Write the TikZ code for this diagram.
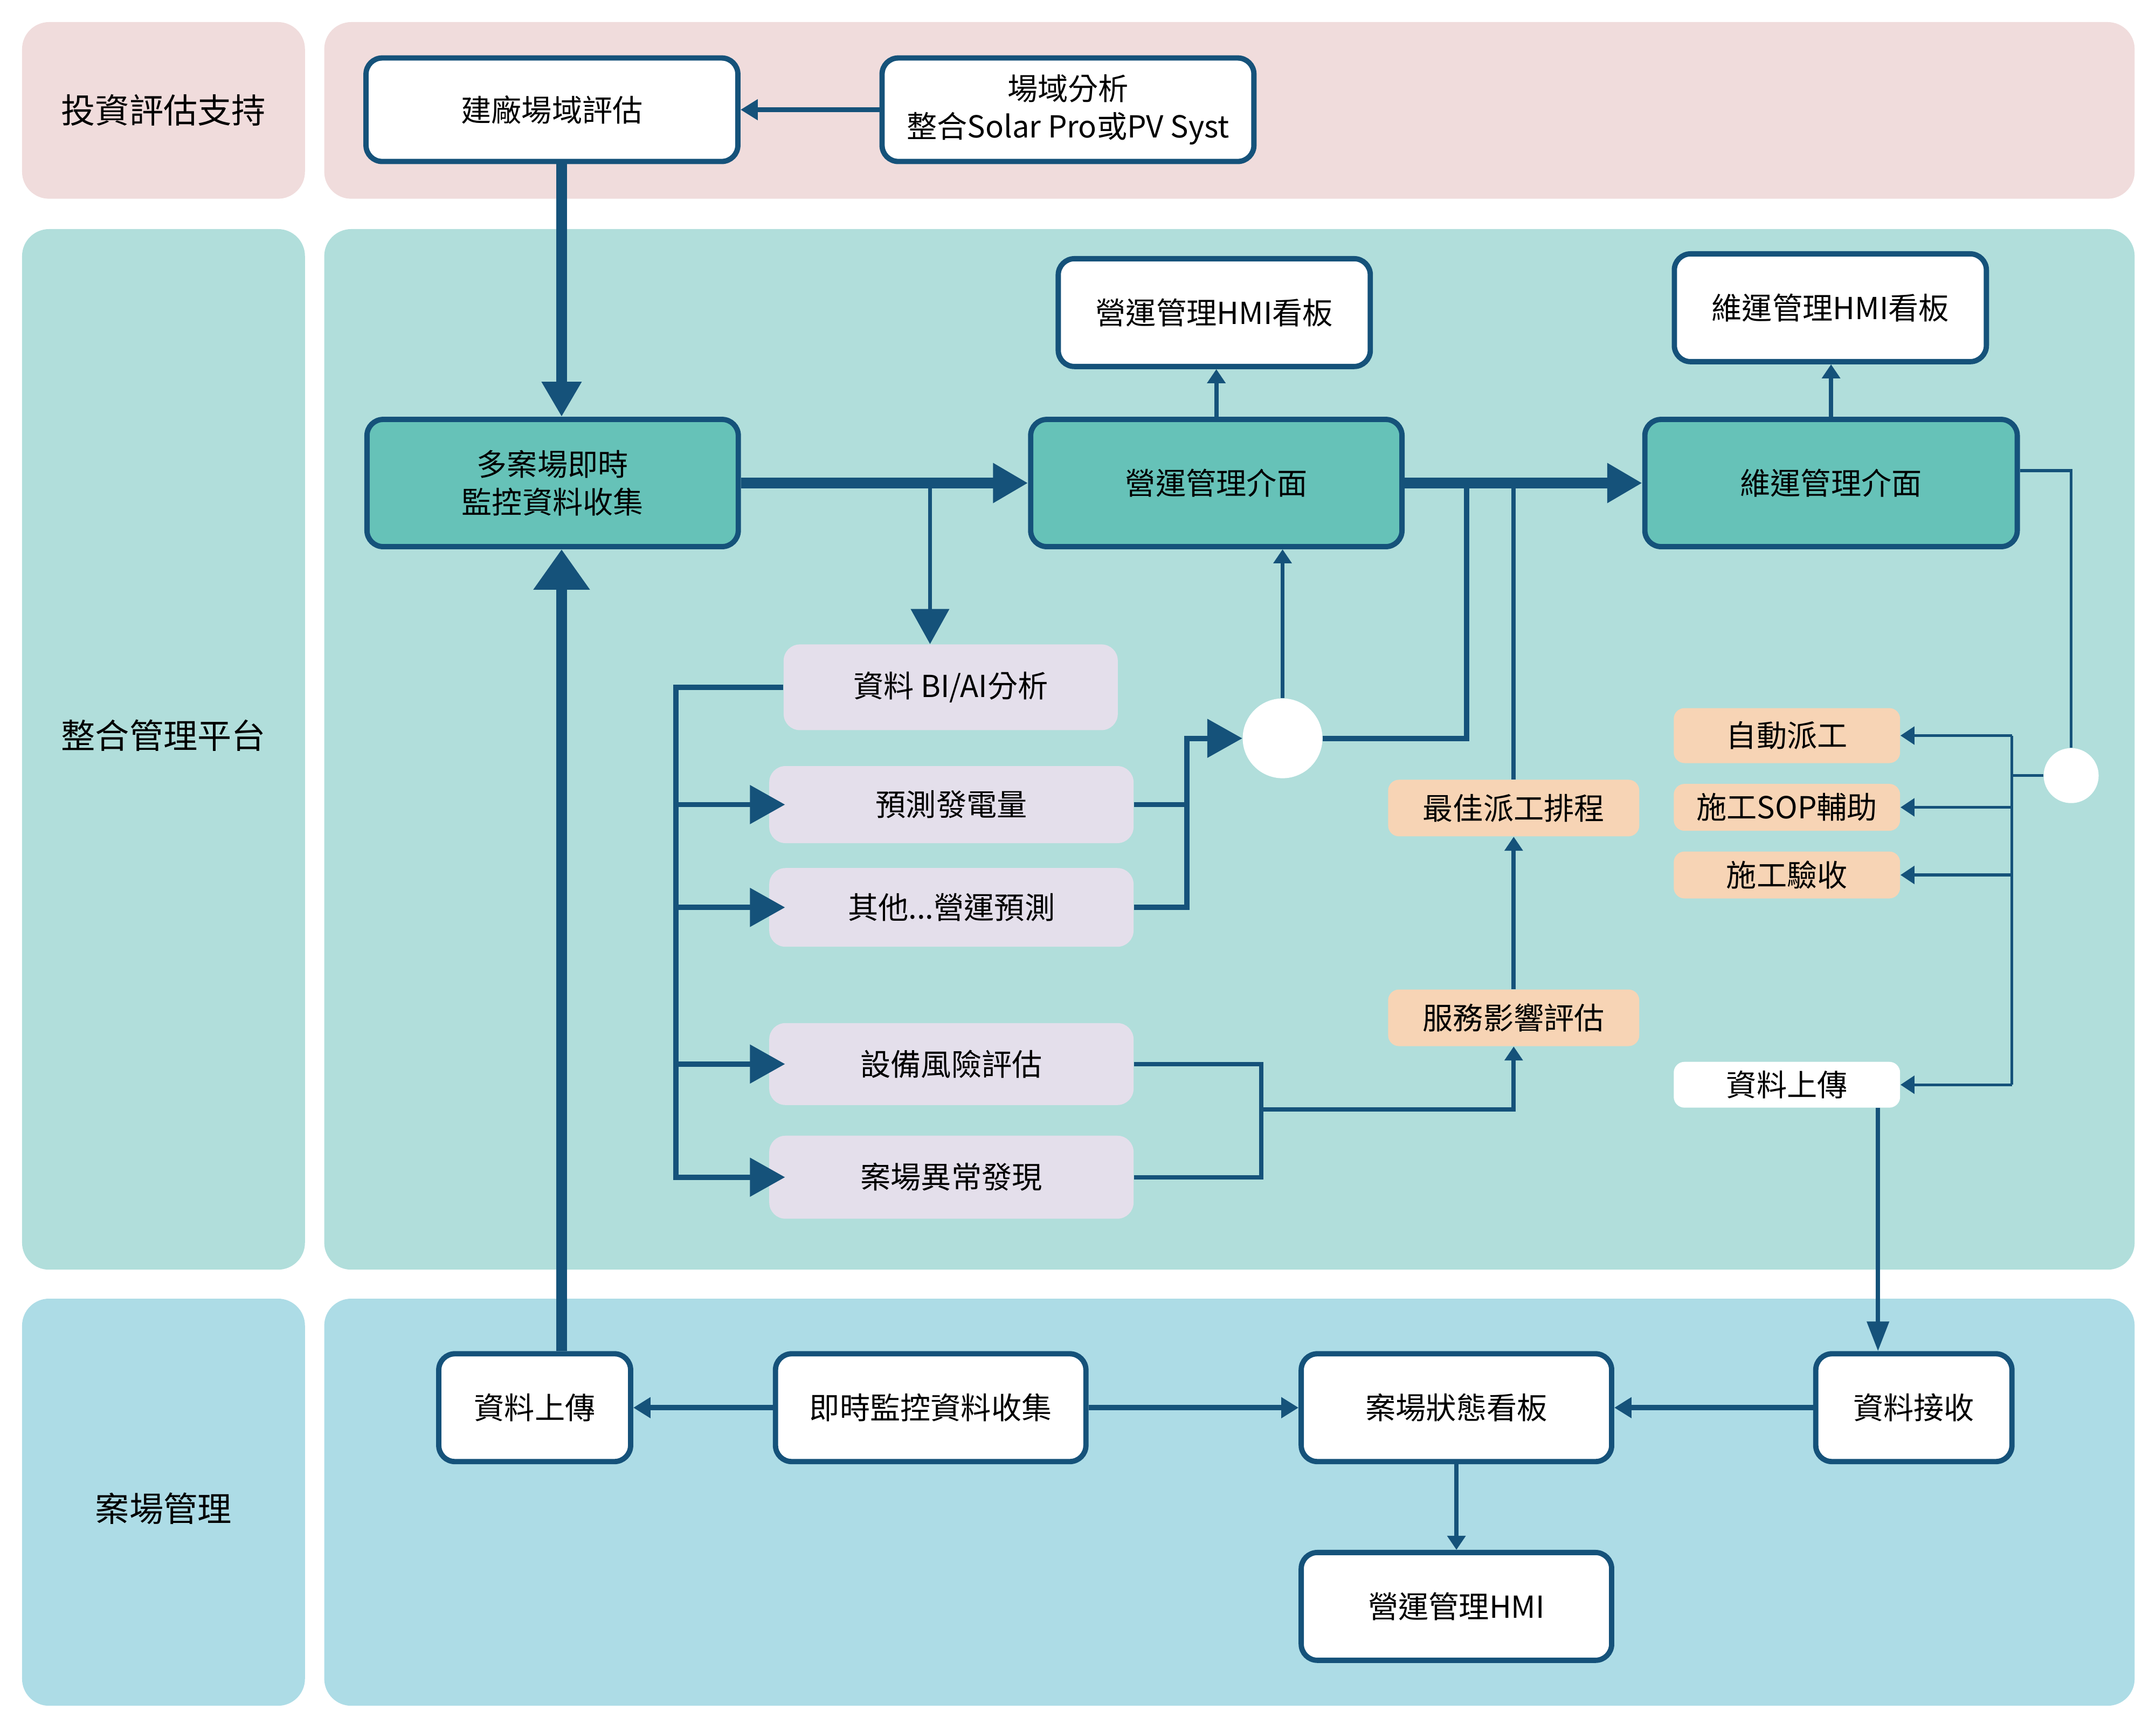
\documentclass[tikz,border=0pt]{standalone}
\usepackage{fontspec}
\setmainfont{Noto Sans CJK TC}
\usetikzlibrary{arrows.meta}
\definecolor{navy}{RGB}{21,82,122}
\definecolor{pinkbg}{RGB}{240,220,220}
\definecolor{tealbg}{RGB}{177,222,219}
\definecolor{bluebg}{RGB}{173,220,230}
\definecolor{tealbox}{RGB}{102,194,184}
\definecolor{lilac}{RGB}{228,223,235}
\definecolor{peach}{RGB}{247,212,181}
\tikzset{
  lane/.style={font=\fontsize{18}{22}\selectfont},
  box/.style={draw=navy,line width=2.8pt,rounded corners=0.3cm,fill=white,align=center,inner sep=0pt,font=\fontsize{16}{20}\selectfont},
  hub/.style={box,fill=tealbox},
  task/.style={fill=lilac,rounded corners=0.3cm,align=center,inner sep=0pt,font=\fontsize{16}{20}\selectfont},
  job/.style={fill=peach,rounded corners=0.2cm,align=center,inner sep=0pt,font=\fontsize{16}{20}\selectfont},
  knot/.style={circle,fill=white,inner sep=0pt},
  heavy/.style={draw=navy,line width=5.8pt},
  mid/.style={draw=navy,line width=2.8pt},
  fine/.style={draw=navy,line width=2.2pt},
  hair/.style={draw=navy,line width=1.5pt},
  bigtip/.style={-{Triangle[length=0.65cm,width=0.7cm]}},
  hugetip/.style={-{Triangle[length=0.75cm,width=1cm]}},
  brtip/.style={-{Triangle[length=0.65cm,width=0.7cm]},shorten >=-0.3cm},
  medtip/.style={-{Triangle[length=0.32cm,width=0.37cm]}},
  smalltip/.style={-{Triangle[length=0.26cm,width=0.33cm]}},
  droptip/.style={-{Triangle[length=0.55cm,width=0.4cm]}}
}
\begin{document}
\begin{tikzpicture}[x=0.0256cm,y=-0.0256cm]
  \useasboundingbox (0,0) rectangle (1562.5,1254);
  \fill[pinkbg,rounded corners=0.5cm] (16,16) rectangle (221,144);
  \fill[pinkbg,rounded corners=0.5cm] (235,16) rectangle (1547,144);
  \fill[tealbg,rounded corners=0.5cm] (16,166) rectangle (221,920);
  \fill[tealbg,rounded corners=0.5cm] (235,166) rectangle (1547,920);
  \fill[bluebg,rounded corners=0.5cm] (16,941) rectangle (221,1236);
  \fill[bluebg,rounded corners=0.5cm] (235,941) rectangle (1547,1236);

  \node[lane] (invest) at (118.5,80) {投資評估支持};
  \node[lane] (platform) at (118.5,533) {整合管理平台};
  \node[lane] (sitemgmt) at (118.5,1093) {案場管理};

  \node[box,minimum width=6.9cm,minimum height=1.92cm] (build) at (400,79.5) {建廠場域評估};
  \node[box,minimum width=6.9cm,minimum height=1.92cm] (site) at (774,79.5) {場域分析\\整合Solar Pro或PV Syst};

  \node[hub,minimum width=6.89cm,minimum height=2.36cm] (multi) at (400.5,350) {多案場即時\\監控資料收集};
  \node[hub,minimum width=6.89cm,minimum height=2.36cm] (ops) at (881.5,350) {營運管理介面};
  \node[hub,minimum width=6.91cm,minimum height=2.36cm] (maint) at (1327,350) {維運管理介面};
  \node[box,minimum width=5.79cm,minimum height=2cm] (opsHMI) at (880,226.5) {營運管理HMI看板};
  \node[box,minimum width=5.79cm,minimum height=2cm] (maintHMI) at (1326.5,223) {維運管理HMI看板};

  \node[task,minimum width=6.2cm,minimum height=1.59cm] (bi) at (689,498) {資料 BI/AI分析};
  \node[task,minimum width=6.76cm,minimum height=1.43cm] (pred) at (689.5,583) {預測發電量};
  \node[task,minimum width=6.76cm,minimum height=1.46cm] (others) at (689.5,657.5) {其他...營運預測};
  \node[task,minimum width=6.76cm,minimum height=1.52cm] (risk) at (689.5,771) {設備風險評估};
  \node[task,minimum width=6.76cm,minimum height=1.54cm] (anom) at (689.5,853) {案場異常發現};

  \node[knot,minimum size=1.48cm] (circ) at (929.5,535) {};
  \node[job,minimum width=4.66cm,minimum height=1.05cm] (best) at (1097,585.5) {最佳派工排程};
  \node[job,minimum width=4.66cm,minimum height=1.05cm] (impact) at (1097,737.5) {服務影響評估};

  \node[knot,minimum size=1.02cm] (rcirc) at (1501,562) {};
  \node[job,minimum width=4.2cm,minimum height=1.02cm] (auto) at (1295,533) {自動派工};
  \node[job,minimum width=4.2cm,minimum height=0.87cm] (sop) at (1295,585) {施工SOP輔助};
  \node[job,minimum width=4.2cm,minimum height=0.87cm] (accept) at (1295,634) {施工驗收};
  \node[job,fill=white,minimum width=4.2cm,minimum height=0.85cm] (upl) at (1295,786) {資料上傳};

  \node[box,minimum width=3.56cm,minimum height=2cm] (up) at (387.5,1020) {資料上傳};
  \node[box,minimum width=5.76cm,minimum height=2cm] (live) at (674.5,1020) {即時監控資料收集};
  \node[box,minimum width=5.76cm,minimum height=2cm] (board) at (1055.5,1020) {案場狀態看板};
  \node[box,minimum width=3.64cm,minimum height=2cm] (recv) at (1387,1020) {資料接收};
  \node[box,minimum width=5.76cm,minimum height=2cm] (hmi) at (1055.5,1164) {營運管理HMI};

  \coordinate (upx) at (407,0);
  \coordinate (tap) at (674,349);
  \coordinate (spine) at (490,0);
  \coordinate (jx) at (860,0);
  \coordinate (jy) at (1063,0);
  \coordinate (kx) at (914,0);
  \coordinate (merge) at (914,804);
  \coordinate (rx) at (1458,0);
  \coordinate (dx) at (1361,0);

  \draw[mid,medtip] (site) -- (build);
  \draw[heavy,bigtip] (build.south -| upx) -- (multi.north -| upx);
  \draw[heavy,bigtip] (multi) -- (ops);
  \draw[heavy,bigtip] (ops) -- (maint);
  \draw[fine,smalltip] (ops.north) -- (ops.north |- opsHMI.south);
  \draw[fine,smalltip] (maint.north) -- (maint.north |- maintHMI.south);
  \draw[fine,bigtip] (tap) -- (tap |- bi.north);

  \draw[mid,brtip] (bi.west) -| (spine |- anom.west) -- (anom.west);
  \draw[mid,brtip] (spine |- pred.west) -- (pred.west);
  \draw[mid,brtip] (spine |- others.west) -- (others.west);
  \draw[mid,brtip] (spine |- risk.west) -- (risk.west);

  \draw[mid] (pred.east) -- (pred.east -| jx);
  \draw[mid,bigtip] (others.east) -| (jx |- circ) -- (circ.west);
  \draw[fine,smalltip] (circ.north) -- (circ.north |- ops.south);
  \draw[mid] (circ.east) -| (jy |- ops.east);
  \draw[fine] (best.north) -- (best.north |- ops.east);
  \draw[fine,smalltip] (impact.north) -- (best.south);
  \draw[fine] (risk.east) -| (kx |- anom.east) -- (anom.east);
  \draw[fine,smalltip] (merge) -| (impact.south);

  \draw[hair] ([yshift=0.23cm]maint.east) -| (rcirc.north);
  \draw[hair] (rcirc.west) -- (rcirc.west -| rx);
  \draw[hair] (rx |- auto.east) -- (rx |- upl.east);
  \draw[hair,smalltip] (rx |- auto.east) -- (auto.east);
  \draw[hair,smalltip] (rx |- sop.east) -- (sop.east);
  \draw[hair,smalltip] (rx |- accept.east) -- (accept.east);
  \draw[hair,smalltip] (rx |- upl.east) -- (upl.east);
  \draw[fine,droptip] (upl.south -| dx) -- (recv.north -| dx);

  \draw[mid,medtip] (live) -- (up);
  \draw[mid,medtip] (live) -- (board);
  \draw[mid,medtip] (recv) -- (board);
  \draw[fine,smalltip] (board) -- (hmi);
  \draw[heavy,hugetip] (up.north -| upx) -- (multi.south -| upx);
\end{tikzpicture}
\end{document}
